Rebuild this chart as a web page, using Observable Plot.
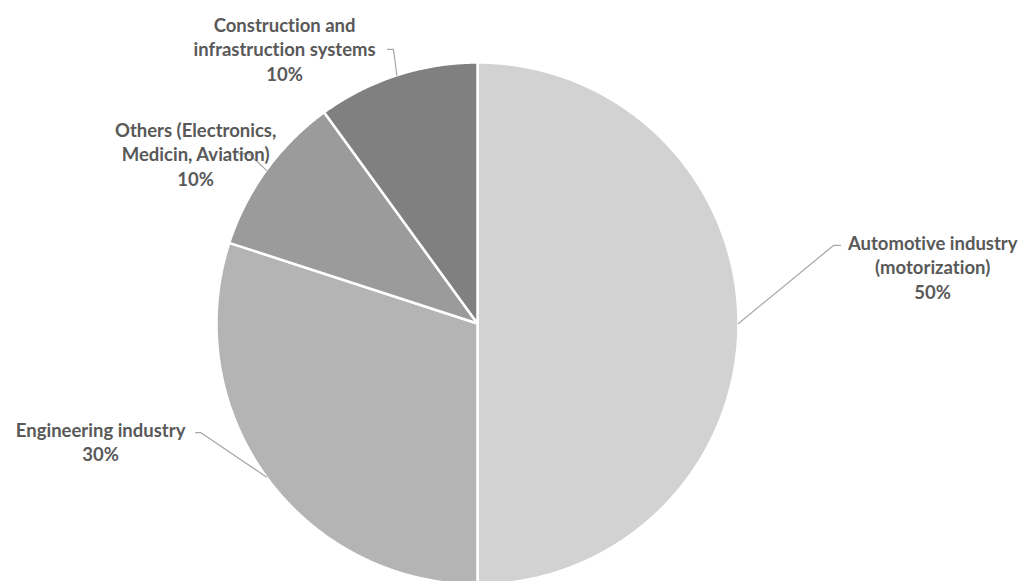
<!DOCTYPE html>
<html>
<head>
<meta charset="utf-8">
<script src="https://cdn.jsdelivr.net/npm/d3@7"></script>
<script src="https://cdn.jsdelivr.net/npm/@observablehq/plot@0.6"></script>
<style>
  html, body { margin: 0; padding: 0; background: #fff; overflow: hidden; }
  #chart svg { display: block; }
  #chart text { font-variant-ligatures: none; font-feature-settings: "liga" 0, "dlig" 0; }
</style>
</head>
<body>
<div id="chart"></div>
<script>
// ---- data ----
const categories = [
  "Automotive industry (motorization)",
  "Engineering industry",
  "Others (Electronics, Medicin, Aviation)",
  "Construction and infrastruction systems"
];
const labelLines = [
  ["Automotive industry", "(motorization)"],
  ["Engineering industry"],
  ["Others (Electronics,", "Medicin, Aviation)"],
  ["Construction and", "infrastruction systems"]
];
const shares = [50, 30, 10, 10];

// ---- styles / layout (kept separate from data) ----
const colors = ["#d2d2d2", "#b4b4b4", "#9b9b9b", "#808080"];
const cx = 477, cy = 323, R = 261;
// label layout in pie-radius units relative to the centre: elbow, leader end, text centre
const labelLayout = [
  {elbow: [1.364, 0.299], end: [1.391, 0.299], text: [1.744, 0.218]},
  {elbow: [-1.061, -0.418], end: [-1.080, -0.418], text: [-1.444, -0.452]},
  {elbow: [-0.877, 0.651], end: [-0.916, 0.651], text: [-1.080, 0.651]},
  {elbow: [-0.322, 1.050], end: [-0.345, 1.050], text: [-0.739, 1.054]}
];

const total = d3.sum(shares);
const slices = [];
let acc = 0;
shares.forEach((v, i) => {
  const a0 = acc / total * 2 * Math.PI;
  acc += v;
  const a1 = acc / total * 2 * Math.PI;
  slices.push({name: categories[i], value: v, a0, a1, mid: (a0 + a1) / 2});
});

// polygon vertices (data space, unit circle) derived from slice angles
const polyPts = [];
slices.forEach(s => {
  polyPts.push({name: s.name, x: 0, y: 0});
  const n = Math.max(2, Math.ceil((s.a1 - s.a0) / 0.005));
  for (let k = 0; k <= n; k++) {
    const a = s.a0 + (s.a1 - s.a0) * k / n;
    polyPts.push({name: s.name, x: Math.sin(a), y: Math.cos(a)});
  }
  polyPts.push({name: s.name, x: 0, y: 0});
});

const leaderPts = [];
const labels = [];
slices.forEach((s, i) => {
  const L = labelLayout[i];
  leaderPts.push({name: s.name, x: Math.sin(s.mid), y: Math.cos(s.mid)});
  leaderPts.push({name: s.name, x: L.elbow[0], y: L.elbow[1]});
  leaderPts.push({name: s.name, x: L.end[0], y: L.end[1]});
  labels.push({
    name: s.name,
    x: L.text[0], y: L.text[1],
    text: [...labelLines[i], d3.format(".0%")(s.value / total)].join("\n")
  });
});

const W = 1025, H = 581;
const chart = Plot.plot({
  width: W,
  height: H,
  margin: 0,
  x: {domain: [-1, 1], range: [cx - R, cx + R], axis: null},
  y: {domain: [-1, 1], range: [cy + R, cy - R], axis: null},
  color: {domain: categories, range: colors},
  style: {background: "#fff", fontFamily: "Lato, 'Open Sans', sans-serif"},
  marks: [
    Plot.line(polyPts, {x: "x", y: "y", z: "name", fill: "name", stroke: "#fff", strokeWidth: 2.5, strokeLinejoin: "round", curve: "linear"}),
    Plot.line(leaderPts, {x: "x", y: "y", z: "name", stroke: "#a6a6a6", strokeWidth: 1.2, curve: "linear"}),
    Plot.text(labels, {x: "x", y: "y", text: "text", fill: "#595959", fontSize: 18.5, fontWeight: "bold", lineHeight: 1.32, textAnchor: "middle", lineAnchor: "middle"})
  ]
});
document.getElementById("chart").appendChild(chart);
</script>
</body>
</html>
